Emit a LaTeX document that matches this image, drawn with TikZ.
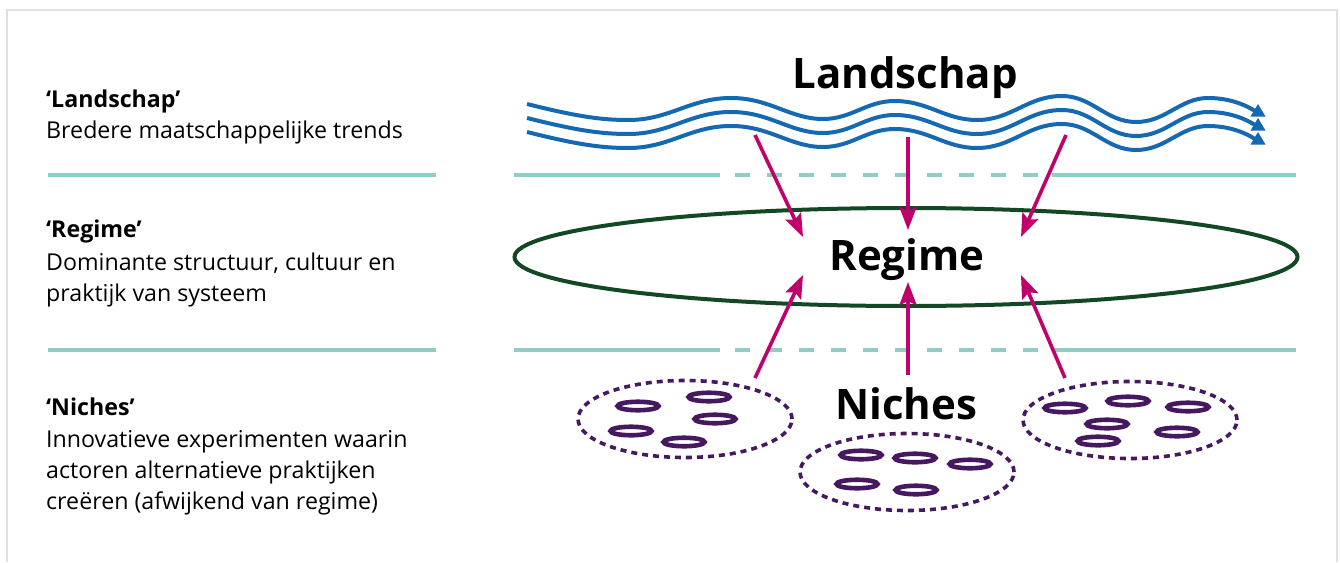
\documentclass[tikz,border=0pt]{standalone}
\usepackage{fontspec}
\setmainfont{Open Sans}
\usetikzlibrary{shapes.geometric,arrows.meta}

\definecolor{framegrey}{RGB}{224,224,224}
\definecolor{mint}{RGB}{143,206,196}
\definecolor{trendblue}{RGB}{21,105,178}
\definecolor{regimegreen}{RGB}{18,72,36}
\definecolor{pushmagenta}{RGB}{192,0,107}
\definecolor{nichepurple}{RGB}{70,24,96}

\begin{document}
\begin{tikzpicture}[x=1pt,y=-1pt,
  legendhead/.style={anchor=base west, inner sep=0pt, font=\fontsize{23.2}{31}\selectfont\bfseries},
  legendline/.style={anchor=base west, inner sep=0pt, font=\fontsize{23.2}{31}\selectfont},
  leveltitle/.style={anchor=base, inner sep=0pt, font=\fontsize{42}{50}\selectfont\bfseries},
  separator/.style={draw=mint, line width=4pt},
  trendline/.style={draw=trendblue, line width=4pt},
  pusharrow/.style={draw=pushmagenta, line width=3.6pt, -{Stealth[length=23pt,width=17pt,inset=4pt]}},
  regimering/.style={ellipse, draw=regimegreen, line width=4pt, inner sep=0pt},
  nichecloud/.style={ellipse, draw=nichepurple, line width=3.6pt, dash pattern=on 6pt off 5pt, inner sep=0pt, minimum width=214pt, minimum height=77pt},
  experiment/.style={ellipse, draw=nichepurple, line width=4.6pt, inner sep=0pt, minimum width=41pt, minimum height=8.5pt}
]
\useasboundingbox (0,0) rectangle (1340,562);

% open frame
\draw[framegrey, line width=1.5pt] (7,562) -- (7,10) -- (1337,10) -- (1337,562);

% legend column
\node[legendhead] (lhL) at (46,107) {‘Landschap’};
\node[legendline] (lL1) at (46,138) {Bredere maatschappelijke trends};
\node[legendhead] (lhR) at (46,237) {‘Regime’};
\node[legendline] (lR1) at (46,270) {Dominante structuur, cultuur en};
\node[legendline] (lR2) at (46,301) {praktijk van systeem};
\node[legendhead] (lhN) at (46,415) {‘Niches’};
\node[legendline] (lN1) at (46,447) {Innovatieve experimenten waarin};
\node[legendline] (lN2) at (46,478) {actoren alternatieve praktijken};
\node[legendline] (lN3) at (46,509) {creëren (afwijkend van regime)};

% separators between the levels
\foreach \y in {175,350} {
  \draw[separator] (48,\y) -- (436,\y);
  \draw[separator] (514,\y) -- (720,\y);
  \draw[separator, dash pattern=on 15pt off 17pt] (735,\y) -- (1038,\y);
  \draw[separator] (1052,\y) -- (1296,\y);
}

% landscape: three parallel trend waves
\node[leveltitle] (landschap) at (905,88) {Landschap};
\foreach \s in {0,14,28} {
  \begin{scope}[yshift=-\s pt]
    \draw[trendline] (527,104) .. controls (575,116) and (600,120) .. (628,120)
      .. controls (670,120) and (690,98) .. (731,98)
      .. controls (770,98) and (790,119) .. (823,119)
      .. controls (852,119) and (866,101) .. (895,101)
      .. controls (928,101) and (945,120) .. (977,120)
      .. controls (1012,120) and (1027,96) .. (1062,96)
      .. controls (1092,96) and (1106,122) .. (1136,122)
      .. controls (1166,122) and (1180,98) .. (1208,98)
      .. controls (1228,98) and (1244,104) .. (1255,111);
    \fill[trendblue] (1258,104) -- (1265.5,116.5) -- (1250.5,116.5) -- cycle;
  \end{scope}
}

% regime
\node[regimering, minimum width=783pt, minimum height=98pt] (regimering) at (906,257) {};
\node[leveltitle] (regime) at (907,270) {Regime};

% niches
\node[leveltitle] (niches) at (906,419) {Niches};
\node[nichecloud] (nicheA) at (685,419) {};
\node[nichecloud] (nicheB) at (907,472) {};
\node[nichecloud] (nicheC) at (1130,420) {};

\foreach \p [count=\i] in {(638,406),(709,397),(715,419),(631,431),(684,442)}
  \node[experiment] (expA\i) at \p {};
\foreach \p [count=\i] in {(861,455),(915,458),(970,464),(857,484),(916,490)}
  \node[experiment] (expB\i) at \p {};
\foreach \p [count=\i] in {(1065,408),(1128,401),(1188,407),(1107,424),(1177,432),(1098,441)}
  \node[experiment] (expC\i) at \p {};

% pressure from the landscape and from the niches onto the regime
\coordinate (landL) at (755,135);
\coordinate (landM) at (908,137);
\coordinate (landR) at (1066,135);
\coordinate (hitTL) at (803,237);
\coordinate (hitTM) at (908,230);
\coordinate (hitTR) at (1021,237);
\coordinate (nicheL) at (755,378);
\coordinate (nicheM) at (908,375);
\coordinate (nicheR) at (1065,378);
\coordinate (hitBL) at (803,275);
\coordinate (hitBM) at (908,282);
\coordinate (hitBR) at (1021,275);

\draw[pusharrow] (landL) -- (hitTL);
\draw[pusharrow] (landM) -- (hitTM);
\draw[pusharrow] (landR) -- (hitTR);
\draw[pusharrow] (nicheL) -- (hitBL);
\draw[pusharrow] (nicheM) -- (hitBM);
\draw[pusharrow] (nicheR) -- (hitBR);
\end{tikzpicture}
\end{document}
